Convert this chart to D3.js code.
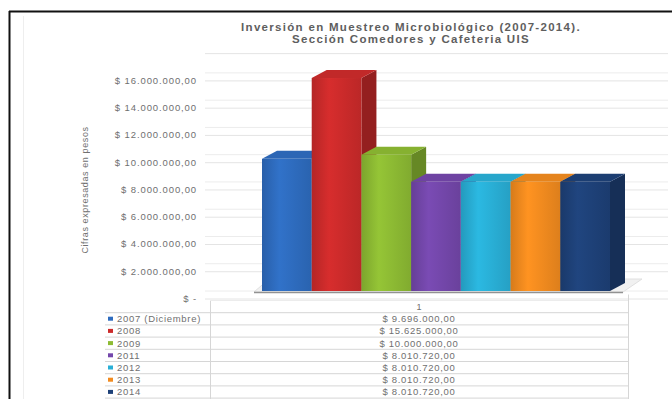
<!DOCTYPE html>
<html>
<head>
<meta charset="utf-8">
<script src="https://cdn.jsdelivr.net/npm/d3@7"></script>
<style>
  html, body { margin: 0; padding: 0; background: #fff; }
  svg { display: block; font-family: "Liberation Sans", Arial, sans-serif; }
</style>
</head>
<body>
<svg id="chart" width="672" height="399"></svg>
<script>
// Inversión anual en muestreo microbiológico
const categories = ["2007 (Diciembre)", "2008", "2009", "2011", "2012", "2013", "2014"];
const values = [9696000, 15625000, 10000000, 8010720, 8010720, 8010720, 8010720];
const colors = ["#2e6cbf", "#cc2b2b", "#8dbb33", "#7447ab", "#29afd6", "#f28b1f", "#1e4178"];
const yTicks = [0, 2000000, 4000000, 6000000, 8000000, 10000000, 12000000, 14000000, 16000000];
const titleLines = ["Inversión en Muestreo Microbiológico (2007-2014).", "Sección Comedores y Cafeteria UIS"];
const yTitle = "Cifras expresadas en pesos";
const seriesName = "1";

const svg = d3.select("#chart");
const defs = svg.append("defs");

// Peso colombiano: $ 15.625.000,00
const fmtNum = d3.formatLocale({ decimal: ",", thousands: ".", grouping: [3], currency: ["$ ", ""] }).format(",.2f");
const money = v => v === 0 ? "$ -" : "$ " + fmtNum(v);

// geometry of the 3-D plot
const depthX = 15, depthY = -8;        // offset of the back face
const labelShift = 8;                   // axis labels sit on the side wall edge
const y = d3.scaleLinear().domain([0, 16000000]).range([291, 72.9]);
const x = d3.scaleBand().domain(categories).range([262, 610]).paddingInner(0).paddingOuter(0);

const grey = "#707070";

// frame
svg.append("line").attr("x1", 9).attr("x2", 672).attr("y1", 11.5).attr("y2", 11.5)
  .attr("stroke", "#111").attr("stroke-width", 2);
svg.append("line").attr("x1", 9.5).attr("x2", 9.5).attr("y1", 11).attr("y2", 399)
  .attr("stroke", "#111").attr("stroke-width", 2);
svg.append("line").attr("x1", 23.5).attr("x2", 23.5).attr("y1", 16).attr("y2", 399)
  .attr("stroke", "#eee").attr("stroke-width", 1);

// title
svg.append("g").selectAll("text").data(titleLines).join("text")
  .attr("x", 411).attr("y", (d, i) => 31 + i * 12)
  .attr("text-anchor", "middle")
  .attr("font-size", 11.5).attr("font-weight", "bold")
  .attr("letter-spacing", 1.3)
  .attr("fill", "#5e5e5e")
  .text(d => d);

// gridlines: side-wall set (aligned with labels) and back-wall set
const grid = svg.append("g");
const gridVals = yTicks.concat([18000000]);
grid.selectAll("line.a").data(gridVals).join("line").attr("class", "a")
  .attr("x1", 205).attr("x2", 668)
  .attr("y1", d => y(d) + labelShift).attr("y2", d => y(d) + labelShift)
  .attr("stroke", "#e4e4e4").attr("stroke-width", 1);
grid.selectAll("line.b").data(yTicks).join("line").attr("class", "b")
  .attr("x1", 205).attr("x2", 668)
  .attr("y1", d => y(d)).attr("y2", d => y(d))
  .attr("stroke", "#ececec").attr("stroke-width", 1);

// floor
const x0 = x.range()[0] - 8, x1 = x.range()[1] + 13;
svg.append("path")
  .attr("d", `M${x0},${y(0) + 1}L${x1},${y(0) + 1}L${x1 + depthX + 4},${y(0) + depthY - 4}L${x0 + depthX},${y(0) + depthY - 4}Z`)
  .attr("fill", "#f1f1f1").attr("stroke", "#e0e0e0");
svg.append("line").attr("x1", x0).attr("x2", x1).attr("y1", y(0) + 1.5).attr("y2", y(0) + 1.5)
  .attr("stroke", "#555").attr("stroke-width", 1.5).attr("opacity", 0.6);

// y axis labels
svg.append("g").selectAll("text").data(yTicks).join("text")
  .attr("x", 197).attr("y", d => y(d) + labelShift + 3)
  .attr("text-anchor", "end")
  .attr("font-size", 9.5).attr("letter-spacing", 0.9)
  .attr("fill", grey)
  .text(d => money(d));

// y axis title
svg.append("text")
  .attr("transform", "translate(88,190) rotate(-90)")
  .attr("text-anchor", "middle")
  .attr("font-size", 9).attr("letter-spacing", 0.6)
  .attr("fill", grey)
  .text(yTitle);

// bar gradients
colors.forEach((c, i) => {
  const base = d3.color(c);
  const g = defs.append("linearGradient").attr("id", "front" + i)
    .attr("x1", "0%").attr("x2", "100%").attr("y1", "0%").attr("y2", "0%");
  g.append("stop").attr("offset", "0%").attr("stop-color", base.darker(0.35));
  g.append("stop").attr("offset", "35%").attr("stop-color", base.brighter(0.15));
  g.append("stop").attr("offset", "100%").attr("stop-color", base.darker(0.25));
});

// 3-D bars, drawn left to right so each bar overlaps the side of the previous one
const bars = svg.append("g");
categories.forEach((cat, i) => {
  const v = values[i];
  const bx = x(cat), bw = x.bandwidth();
  const top = y(v), bottom = y(0);
  const c = d3.color(colors[i]);
  const g = bars.append("g");
  // side
  g.append("path")
    .attr("d", `M${bx + bw},${top}L${bx + bw + depthX},${top + depthY}L${bx + bw + depthX},${bottom + depthY}L${bx + bw},${bottom}Z`)
    .attr("fill", c.darker(0.9));
  // top
  g.append("path")
    .attr("d", `M${bx},${top}L${bx + depthX},${top + depthY}L${bx + bw + depthX},${top + depthY}L${bx + bw},${top}Z`)
    .attr("fill", c.darker(0.15));
  // front
  g.append("rect")
    .attr("x", bx).attr("y", top).attr("width", bw).attr("height", bottom - top)
    .attr("fill", `url(#front${i})`);
});

// data table
const tLeft = 105, tDiv = 210, tRight = 628;
const rowH = 12.2, tTop = 300.5;
const table = svg.append("g");
const rowYs = d3.range(categories.length + 2).map(k => tTop + k * rowH);
table.selectAll("line.h").data(rowYs.slice(1)).join("line").attr("class", "h")
  .attr("x1", tLeft).attr("x2", tRight).attr("y1", d => d).attr("y2", d => d)
  .attr("stroke", "#d6d6d6");
table.append("line").attr("x1", tDiv + 0.5).attr("x2", tDiv + 0.5).attr("y1", tTop).attr("y2", 399).attr("stroke", "#d6d6d6");
table.append("line").attr("x1", tRight + 0.5).attr("x2", tRight + 0.5).attr("y1", tTop - 6).attr("y2", 399).attr("stroke", "#d6d6d6");
table.append("line").attr("x1", tDiv).attr("x2", tRight).attr("y1", tTop).attr("y2", tTop).attr("stroke", "#ececec");

table.append("text").attr("x", (tDiv + tRight) / 2).attr("y", tTop + 9)
  .attr("text-anchor", "middle").attr("font-size", 9).attr("fill", grey).text(seriesName);

const rows = table.selectAll("g.row").data(categories).join("g").attr("class", "row")
  .attr("transform", (d, i) => `translate(0,${tTop + (i + 1) * rowH})`);
rows.append("rect").attr("x", 108).attr("y", 4).attr("width", 5).attr("height", 4)
  .attr("fill", (d, i) => colors[i]);
rows.append("text").attr("x", 117).attr("y", 9.5)
  .attr("font-size", 9.5).attr("letter-spacing", 0.7).attr("fill", grey)
  .text(d => d);
rows.append("text").attr("x", (tDiv + tRight) / 2).attr("y", 9.5)
  .attr("text-anchor", "middle")
  .attr("font-size", 9.5).attr("letter-spacing", 0.7).attr("fill", grey)
  .text((d, i) => money(values[i]));
</script>
</body>
</html>
